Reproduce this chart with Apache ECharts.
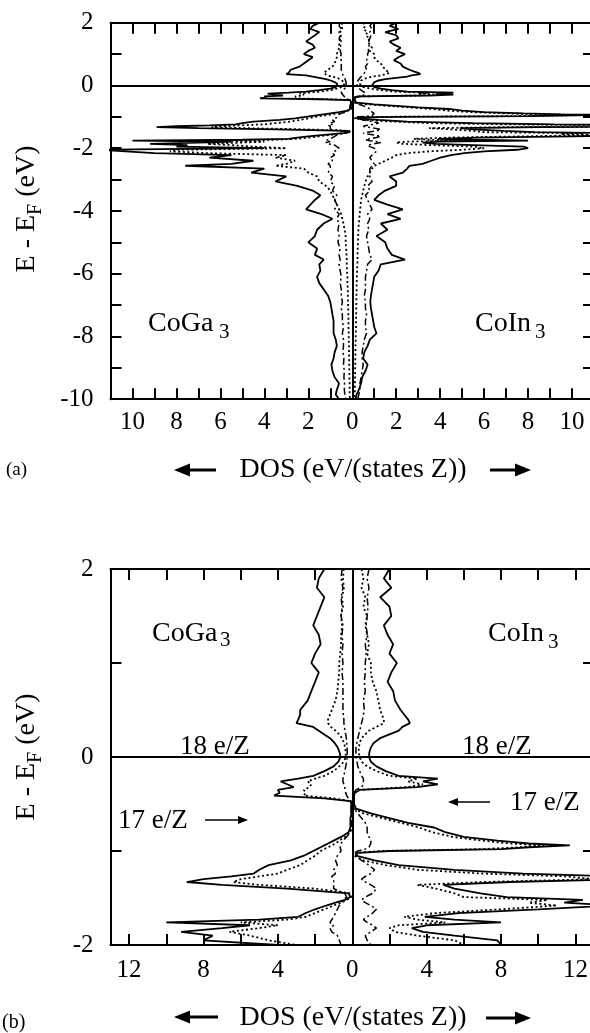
<!DOCTYPE html>
<html><head><meta charset="utf-8">
<script src="https://cdn.jsdelivr.net/npm/echarts@6/dist/echarts.min.js"></script>
<style>html,body{margin:0;padding:0;background:#fff}#c{width:590px;height:1033px}</style>
</head><body><div id="c"></div>
<script>
// Energy grid (eV) for -2..2 (shown in both panels) and below -2 (panel a only)
const energyHi = [
  2.0, 1.9, 1.8, 1.7, 1.6, 1.5, 1.4, 1.3, 1.2, 1.1,
  1.0, 0.9, 0.8, 0.7, 0.6, 0.5, 0.45, 0.4, 0.36, 0.32,
  0.28, 0.24, 0.2, 0.15, 0.1, 0.05, 0, -0.05, -0.1, -0.15,
  -0.2, -0.23, -0.26, -0.29, -0.32, -0.35, -0.38, -0.41, -0.44, -0.47,
  -0.5, -0.55, -0.6, -0.65, -0.7, -0.75, -0.8, -0.85, -0.89, -0.92,
  -0.94, -0.96, -0.98, -1.0, -1.02, -1.05, -1.1, -1.15, -1.2, -1.24,
  -1.27, -1.3, -1.33, -1.36, -1.4, -1.45, -1.49, -1.52, -1.55, -1.58,
  -1.62, -1.66, -1.7, -1.73, -1.76, -1.79, -1.82, -1.86, -1.9, -1.95,
  -2.0];
const energyLo = [
  -2.05, -2.1, -2.16, -2.22, -2.3, -2.4, -2.5, -2.56, -2.65, -2.78,
  -2.9, -3.06, -3.2, -3.35, -3.5, -3.65, -3.8, -3.95, -4.1, -4.25,
  -4.4, -4.6, -4.8, -5.0, -5.2, -5.4, -5.55, -5.7, -5.9, -6.1,
  -6.3, -6.5, -6.7, -6.9, -7.1, -7.3, -7.5, -7.7, -7.9, -8.1,
  -8.3, -8.5, -8.7, -8.9, -9.1, -9.3, -9.5, -9.7, -9.85, -10.0];

// CoGa3 (drawn to the left)
const coga3TotalHi = [
  1.5, 1.8, 1.9, 1.5, 1.7, 1.9, 2.1, 1.8, 1.7, 2.0,
  2.2, 1.8, 2.0, 2.2, 2.4, 2.8, 2.8, 2.9, 3.0, 2.1,
  1.8, 1.5, 1.2, 0.95, 0.78, 0.68, 0.63, 0.75, 1.0, 1.5,
  2.1, 2.9, 3.85, 3.5, 3.15, 4.0, 3.9, 4.2, 1.5, 0.1,
  0.05, 0.05, 0.05, 0.1, 0.1, 0.1, 0.2, 0.6, 1.0, 1.3,
  1.5, 1.7, 1.9, 2.1, 2.3, 2.6, 3.3, 4.5, 5.0, 5.3,
  6.5, 8.0, 8.9, 7.0, 3.5, 0.2, 0.1, 0.4, 0.9, 1.4,
  2.0, 2.5, 2.9, 5.0, 10.0, 5.5, 7.0, 9.2, 7.5, 8.0,
  4.0];
const coga3DotHi = [
  0.45, 0.5, 0.45, 0.55, 0.5, 0.6, 0.55, 0.6, 0.6, 0.65,
  0.7, 0.7, 0.75, 0.8, 0.9, 1.1, 1.2, 1.3, 1.3, 1.15,
  0.9, 0.7, 0.55, 0.45, 0.38, 0.35, 0.35, 0.45, 0.7, 1.0,
  1.5, 2.0, 2.4, 2.2, 2.3, 2.6, 2.5, 2.6, 1.0, 0.05,
  0.05, 0.05, 0.05, 0.05, 0.05, 0.05, 0.1, 0.4, 0.7, 0.9,
  1.1, 1.3, 1.5, 1.7, 1.8, 2.0, 2.4, 2.8, 3.5, 4.0,
  5.0, 6.0, 6.4, 5.0, 2.0, 0.1, 0.05, 0.3, 0.6, 1.0,
  1.5, 2.0, 2.5, 3.5, 6.0, 4.0, 5.0, 6.6, 5.5, 4.5,
  3.0];
const coga3DashHi = [
  0.55, 0.6, 0.5, 0.6, 0.55, 0.6, 0.5, 0.55, 0.5, 0.55,
  0.5, 0.55, 0.5, 0.5, 0.5, 0.5, 0.48, 0.45, 0.45, 0.42,
  0.4, 0.35, 0.32, 0.3, 0.28, 0.27, 0.27, 0.3, 0.35, 0.4,
  0.45, 0.5, 0.5, 0.45, 0.4, 0.4, 0.35, 0.3, 0.2, 0.05,
  0.05, 0.05, 0.05, 0.05, 0.05, 0.05, 0.1, 0.3, 0.5, 0.6,
  0.6, 0.65, 0.6, 0.6, 0.7, 0.8, 0.9, 0.8, 1.0, 0.9,
  1.1, 1.0, 1.0, 1.0, 1.0, 0.4, 0.3, 0.5, 0.6, 0.7,
  0.8, 0.9, 1.0, 1.1, 1.2, 1.0, 1.2, 1.1, 0.8, 0.7,
  0.6];
const coga3TotalLo = [
  11.5, 11.5, 9.0, 5.5, 6.5, 4.5, 5.5, 7.6, 4.0, 4.6,
  3.0, 3.5, 2.5, 1.8, 1.45, 1.7, 1.9, 2.1, 1.4, 0.9,
  1.3, 1.6, 1.7, 2.0, 1.6, 1.7, 1.3, 1.5, 1.45, 1.6,
  1.5, 1.3, 1.1, 1.0, 0.95, 0.9, 0.85, 0.85, 0.85, 0.75,
  0.7, 0.8, 0.85, 0.95, 0.9, 0.8, 0.6, 0.7, 0.75, 0.6];
const coga3DotLo = [
  8.0, 8.3, 6.5, 3.0, 3.5, 2.6, 3.0, 3.5, 2.2, 2.0,
  1.6, 1.5, 1.2, 1.0, 0.9, 0.8, 0.7, 0.6, 0.5, 0.45,
  0.4, 0.35, 0.3, 0.3, 0.28, 0.26, 0.25, 0.25, 0.24, 0.22,
  0.22, 0.2, 0.2, 0.2, 0.18, 0.18, 0.17, 0.17, 0.16, 0.16,
  0.15, 0.15, 0.14, 0.14, 0.13, 0.13, 0.12, 0.12, 0.12, 0.1];
const coga3DashLo = [
  0.7, 0.8, 0.9, 0.8, 1.0, 0.9, 1.1, 1.0, 1.0, 1.1,
  0.9, 1.0, 0.8, 0.9, 0.7, 0.8, 0.7, 0.8, 0.6, 0.7,
  0.6, 0.65, 0.6, 0.65, 0.55, 0.6, 0.55, 0.6, 0.55, 0.5,
  0.55, 0.5, 0.5, 0.45, 0.5, 0.45, 0.45, 0.4, 0.45, 0.4,
  0.4, 0.42, 0.38, 0.4, 0.36, 0.38, 0.35, 0.36, 0.34, 0.3];

// CoIn3 (drawn to the right)
const coin3TotalHi = [
  2.0, 1.7, 2.1, 1.5, 2.0, 2.1, 1.7, 1.9, 2.2, 2.0,
  2.4, 2.1, 1.9, 2.2, 2.3, 2.6, 2.8, 3.0, 3.1, 2.7,
  2.5, 2.0, 1.5, 1.15, 1.0, 0.92, 0.9, 1.0, 1.3, 1.8,
  2.5, 4.6, 3.8, 4.6, 3.5, 0.4, 0.15, 0.1, 0.1, 0.1,
  0.1, 0.2, 1.0, 2.0, 3.0, 4.4, 5.0, 6.0, 7.8, 9.5,
  11.7, 9.5, 8.0, 2.0, 0.3, 0.2, 1.2, 2.5, 5.5, 9.2,
  14, 15, 8.5, 4.9, 5.5, 6.9, 8.3, 12.4, 11.4, 14,
  10, 5.7, 3.9, 5.5, 8.0, 4.0, 3.2, 3.8, 5.5, 7.8,
  8.0];
const coin3DotHi = [
  0.5, 0.6, 0.5, 0.7, 0.6, 0.8, 0.7, 0.8, 0.9, 0.8,
  1.0, 1.0, 1.1, 1.3, 1.4, 1.5, 1.6, 1.7, 1.7, 1.3,
  0.9, 0.7, 0.5, 0.4, 0.35, 0.35, 0.4, 0.5, 0.8, 1.3,
  2.0, 3.5, 3.0, 3.8, 3.0, 0.3, 0.1, 0.05, 0.05, 0.05,
  0.05, 0.1, 0.6, 1.6, 2.6, 3.6, 4.3, 5.4, 7.0, 8.5,
  10.3, 9.0, 7.0, 1.5, 0.2, 0.1, 0.6, 1.8, 3.5, 7.0,
  11.5, 13, 7.0, 3.5, 4.5, 5.5, 6.0, 10.5, 9.5, 11,
  8, 4.5, 2.8, 3.5, 5.0, 2.5, 2.0, 2.3, 3.5, 5.5,
  6.0];
const coin3DashHi = [
  0.9, 0.8, 0.9, 0.8, 0.85, 0.8, 0.75, 0.8, 0.7, 0.75,
  0.7, 0.7, 0.65, 0.7, 0.6, 0.65, 0.6, 0.55, 0.5, 0.45,
  0.4, 0.35, 0.3, 0.25, 0.2, 0.2, 0.2, 0.25, 0.3, 0.4,
  0.5, 0.6, 0.6, 0.6, 0.5, 0.2, 0.1, 0.1, 0.1, 0.1,
  0.1, 0.1, 0.3, 0.5, 0.7, 0.8, 0.8, 0.9, 1.0, 1.0,
  1.0, 0.9, 0.7, 0.3, 0.1, 0.2, 0.5, 0.9, 1.2, 1.0,
  0.7, 0.5, 0.7, 1.0, 1.3, 1.1, 0.7, 0.5, 0.7, 1.0,
  1.3, 1.1, 0.8, 0.6, 0.8, 1.1, 1.3, 1.0, 0.7, 0.8,
  1.0];
const coin3TotalLo = [
  7.5, 6.0, 5.1, 4.5, 4.0, 3.6, 3.2, 2.6, 2.5, 2.3,
  1.7, 2.0, 2.0, 1.5, 1.2, 1.0, 1.6, 2.3, 1.6, 2.2,
  1.3, 1.6, 1.1, 1.5, 1.6, 1.8, 2.4, 1.3, 1.2, 1.0,
  0.95, 0.9, 0.85, 0.82, 0.85, 0.9, 0.95, 1.0, 1.1, 0.8,
  0.7, 0.55, 0.5, 0.7, 0.6, 0.45, 0.4, 0.3, 0.2, 0.15];
const coin3DotLo = [
  5.0, 3.5, 2.5, 2.0, 1.8, 1.5, 1.2, 1.0, 0.9, 0.8,
  0.7, 0.6, 0.55, 0.5, 0.45, 0.4, 0.38, 0.36, 0.34, 0.32,
  0.3, 0.28, 0.27, 0.26, 0.25, 0.24, 0.24, 0.23, 0.22, 0.21,
  0.2, 0.2, 0.19, 0.19, 0.18, 0.18, 0.17, 0.17, 0.16, 0.16,
  0.15, 0.15, 0.14, 0.14, 0.13, 0.13, 0.12, 0.12, 0.11, 0.1];
const coin3DashLo = [
  1.0, 1.1, 1.0, 0.9, 0.8, 0.9, 1.0, 0.9, 0.8, 0.8,
  0.8, 0.9, 0.7, 0.8, 0.6, 0.7, 0.8, 0.9, 0.7, 0.8,
  0.7, 0.75, 0.65, 0.7, 0.75, 0.8, 0.9, 0.7, 0.65, 0.6,
  0.6, 0.6, 0.55, 0.6, 0.6, 0.65, 0.6, 0.6, 0.65, 0.55,
  0.5, 0.45, 0.45, 0.5, 0.45, 0.4, 0.35, 0.35, 0.3, 0.25];

// Axis ticks / labels
const aXTicks = [-10,-9,-8,-7,-6,-5,-4,-3,-2,-1,0,1,2,3,4,5,6,7,8,9,10];
const aXLabels = [-10,-8,-6,-4,-2,0,2,4,6,8,10];
const aYTicks = [-9,-8,-7,-6,-5,-4,-3,-2,-1,0,1];
const aYLabels = [-10,-8,-6,-4,-2,0,2];
const bXTicks = [-12,-10,-8,-6,-4,-2,0,2,4,6,8,10,12];
const bXLabels = [-12,-8,-4,0,4,8,12];
const bYTicks = [-1,0,1];
const bYLabels = [-2,0,2];

const FAM = '"Liberation Serif","Times New Roman",serif';

function pts(E, v, sgn) { return E.map((e, i) => [sgn * v[i], e]); }
const aE = energyHi.concat(energyLo);

function ser(xi, yi, data, kind, mark) {
  const st = {
    solid: { type: 'solid', width: 1.8 },
    dot: { type: [2, 2.6], width: 1.8 },
    dash: { type: [7, 3, 2, 3], width: 1.5 }
  }[kind];
  const s = { type: 'line', xAxisIndex: xi, yAxisIndex: yi, data, symbol: 'none', showSymbol: false,
    silent: true, clip: true, lineStyle: Object.assign({ color: '#000' }, st), z: 3 };
  if (mark) {
    s.markLine = { silent: true, symbol: ['none', 'none'], label: { show: false },
      lineStyle: { color: '#000', type: 'solid', width: 2 },
      data: [{ xAxis: 0 }, { yAxis: 0 }], animation: false };
  }
  return s;
}

function xAx(grid, pos, min, max, ticks, labels, margin) {
  return { type: 'value', gridIndex: grid, position: pos, min, max,
    axisLine: { show: true, onZero: false, lineStyle: { color: '#000', width: 2 } },
    axisTick: { show: true, inside: true, length: 11, customValues: ticks, lineStyle: { color: '#000', width: 2 } },
    axisLabel: { show: pos === 'bottom', customValues: labels, margin, color: '#000', fontSize: 25, fontFamily: FAM,
      formatter: v => String(Math.abs(v)) },
    splitLine: { show: false } };
}
function yAx(grid, pos, min, max, ticks, labels) {
  return { type: 'value', gridIndex: grid, position: pos, min, max,
    axisLine: { show: true, onZero: false, lineStyle: { color: '#000', width: 2 } },
    axisTick: { show: true, inside: true, length: 11, customValues: ticks, lineStyle: { color: '#000', width: 2 } },
    axisLabel: { show: pos === 'left', customValues: labels, margin: 17, color: '#000', fontSize: 25, fontFamily: FAM },
    splitLine: { show: false } };
}

function txt(s, x, y, fs, align) {
  return { type: 'text', x, y, z: 100, silent: true,
    style: { text: s, fontSize: fs, fontFamily: FAM, fill: '#000',
      align: align || 'left', textAlign: align || 'left', verticalAlign: 'middle', textVerticalAlign: 'middle' } };
}
function ytitle(x, y) {
  return { type: 'text', x, y, rotation: Math.PI / 2, z: 100, silent: true,
    style: { text: 'E - E{s|F} (eV)', fontSize: 28, fontFamily: FAM, fill: '#000',
      align: 'center', textAlign: 'center', verticalAlign: 'middle', textVerticalAlign: 'middle',
      rich: { s: { fontSize: 20, fontFamily: FAM, fill: '#000', padding: [18, 0, 0, 0] } } } };
}
function arrow(xTail, xHead, y, w, hl, hw) {
  const d = Math.sign(xHead - xTail);
  return [
    { type: 'line', z: 100, silent: true, shape: { x1: xTail, y1: y, x2: xHead - d * hl * 0.7, y2: y },
      style: { stroke: '#000', lineWidth: w } },
    { type: 'polygon', z: 100, silent: true,
      shape: { points: [[xHead, y], [xHead - d * hl, y - hw], [xHead - d * hl, y + hw]] },
      style: { fill: '#000' } }
  ];
}

const graphics = [
  txt('CoGa', 148, 323.5, 28), txt('3', 219, 332.5, 21),
  txt('CoIn', 475, 323.5, 28), txt('3', 535, 332.5, 21),
  txt('CoGa', 152, 633.5, 28), txt('3', 220, 640.5, 21),
  txt('CoIn', 488, 633.5, 28), txt('3', 548, 642.5, 21),
  txt('18 e/Z', 180, 747, 27), txt('18 e/Z', 462, 747, 27),
  txt('17 e/Z', 118, 821, 27), txt('17 e/Z', 510, 803, 27),
  txt('(a)', 6, 470, 19), txt('(b)', 2, 1023, 20),
  txt('DOS (eV/(states Z))', 353, 470, 28, 'center'),
  txt('DOS (eV/(states Z))', 353, 1018, 28, 'center'),
  ytitle(27, 209), ytitle(27, 757)
].concat(
  arrow(205, 248, 820, 1.5, 10, 4),
  arrow(490, 448, 802, 1.5, 10, 4),
  arrow(216, 174, 470, 3, 16, 6.5),
  arrow(490, 531, 470, 3, 16, 6.5),
  arrow(218, 174, 1017, 3, 16, 6.5),
  arrow(486, 531, 1018, 3, 16, 6.5)
);

const option = {
  animation: false,
  backgroundColor: '#fff',
  grid: [
    { left: 110.5, top: 22.7, width: 483.5, height: 376.5, containLabel: false, outerBoundsMode: 'none' },
    { left: 110.5, top: 569, width: 483.5, height: 376, containLabel: false, outerBoundsMode: 'none' }
  ],
  xAxis: [
    xAx(0, 'bottom', -11, 11, aXTicks, aXLabels, 11),
    xAx(0, 'top', -11, 11, aXTicks, aXLabels, 11),
    xAx(1, 'bottom', -13, 13, bXTicks, bXLabels, 13),
    xAx(1, 'top', -13, 13, bXTicks, bXLabels, 13)
  ],
  yAxis: [
    yAx(0, 'left', -10, 2, aYTicks, aYLabels),
    yAx(0, 'right', -10, 2, aYTicks, aYLabels),
    yAx(1, 'left', -2, 2, bYTicks, bYLabels),
    yAx(1, 'right', -2, 2, bYTicks, bYLabels)
  ],
  series: [
    ser(0, 0, pts(aE, coga3TotalHi.concat(coga3TotalLo), -1), 'solid', true),
    ser(0, 0, pts(aE, coga3DotHi.concat(coga3DotLo), -1), 'dot'),
    ser(0, 0, pts(aE, coga3DashHi.concat(coga3DashLo), -1), 'dash'),
    ser(0, 0, pts(aE, coin3TotalHi.concat(coin3TotalLo), 1), 'solid'),
    ser(0, 0, pts(aE, coin3DotHi.concat(coin3DotLo), 1), 'dot'),
    ser(0, 0, pts(aE, coin3DashHi.concat(coin3DashLo), 1), 'dash'),
    ser(2, 2, pts(energyHi, coga3TotalHi, -1), 'solid', true),
    ser(2, 2, pts(energyHi, coga3DotHi, -1), 'dot'),
    ser(2, 2, pts(energyHi, coga3DashHi, -1), 'dash'),
    ser(2, 2, pts(energyHi, coin3TotalHi, 1), 'solid'),
    ser(2, 2, pts(energyHi, coin3DotHi, 1), 'dot'),
    ser(2, 2, pts(energyHi, coin3DashHi, 1), 'dash')
  ],
  graphic: graphics
};

const chart = echarts.init(document.getElementById('c'), null, { renderer: 'canvas' });
chart.setOption(option);
</script>
</body></html>
